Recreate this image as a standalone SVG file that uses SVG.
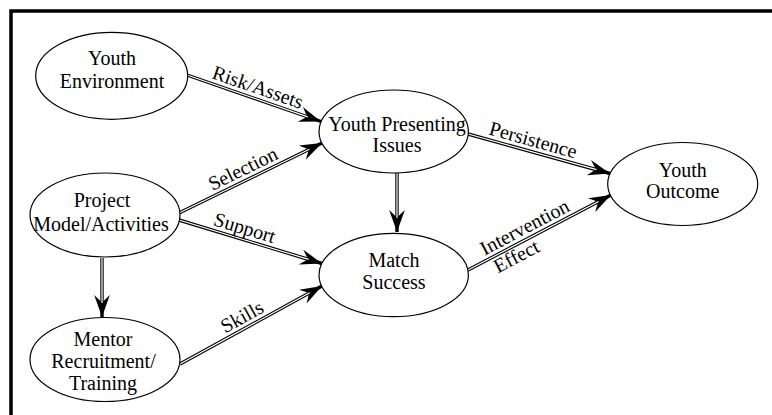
<svg xmlns="http://www.w3.org/2000/svg" width="772" height="415" viewBox="0 0 772 415">
<style>
text{font-family:"Liberation Serif","Times New Roman",serif;font-size:20px;fill:#000;text-anchor:middle}
.node ellipse{fill:#fff;stroke:#000;stroke-width:1.2}
.outer{fill:none;stroke:#000;stroke-width:3.4;marker-end:url(#ah)}
.inner{fill:none;stroke:#fff;stroke-width:1.2}
</style>
<defs>
<marker id="ah" markerUnits="userSpaceOnUse" markerWidth="24" markerHeight="20" viewBox="-22 -9 23 18" refX="0" refY="0" orient="auto">
<path d="M0,0 L-21,-7.5 L-14,0 L-21,7.5 Z" fill="#000"/>
</marker>
</defs>
<rect width="772" height="415" fill="#fff"/>
<path d="M11,415 V11 H772" fill="none" stroke="#000" stroke-width="3.5"/>
<g id="connectors">
<path class="outer" d="M187,75 L321,121.5"/><path class="inner" d="M187,75 L307.8,116.9"/>
<path class="outer" d="M179,213 L322,143"/><path class="inner" d="M179,213 L309.4,149.2"/>
<path class="outer" d="M179,220 L322,263.5"/><path class="inner" d="M179,220 L308.6,259.4"/>
<path class="outer" d="M102,258 L102,317"/><path class="inner" d="M102,258 L102,303"/>
<path class="outer" d="M180,364 L322,286"/><path class="inner" d="M180,364 L309.7,292.7"/>
<path class="outer" d="M397,173 L397,232"/><path class="inner" d="M397,173 L397,218"/>
<path class="outer" d="M468,134 L610,173.5"/><path class="inner" d="M468,134 L596.5,169.7"/>
<path class="outer" d="M468,270 L611,195"/><path class="inner" d="M468,270 L598.6,201.5"/>
<text transform="translate(254,98.2) rotate(19.1)" y="-5">Risk/Assets</text>
<text transform="translate(248,179.2) rotate(-26.1)" y="-5">Selection</text>
<text transform="translate(241.4,239) rotate(16.9)" y="-5">Support</text>
<text transform="translate(247.6,326.9) rotate(-28.8)" y="-5">Skills</text>
<text transform="translate(530,151.2) rotate(15.5)" y="-5">Persistence</text>
<text transform="translate(530,237.5) rotate(-27.7)" y="-5">Intervention</text>
<text transform="translate(511.6,247.1) rotate(-27.7)" y="17">Effect</text>
</g>
<g id="youth-environment" class="node"><ellipse cx="111.7" cy="75.8" rx="76" ry="43.5"/><text x="112" y="65">Youth</text><text x="112" y="87.7">Environment</text></g>
<g id="youth-presenting-issues" class="node"><ellipse cx="393.7" cy="131.5" rx="74.7" ry="41.5"/><text x="397" y="130.7">Youth Presenting</text><text x="397" y="151.7">Issues</text></g>
<g id="youth-outcome" class="node"><ellipse cx="682.7" cy="184" rx="75" ry="41.5"/><text x="682.7" y="176.7">Youth</text><text x="682.7" y="198.3">Outcome</text></g>
<g id="project-model" class="node"><ellipse cx="105" cy="215" rx="75" ry="42"/><text x="102" y="206.7">Project</text><text x="101" y="230.7">Model/Activities</text></g>
<g id="mentor-recruitment" class="node"><ellipse cx="105" cy="359.5" rx="75" ry="42"/><text x="103" y="345.7">Mentor</text><text x="103.5" y="368.3">Recruitment/</text><text x="103" y="390">Training</text></g>
<g id="match-success" class="node"><ellipse cx="393.7" cy="275" rx="74.7" ry="41.7"/><text x="394" y="266.7">Match</text><text x="394" y="289.3">Success</text></g>
</svg>
